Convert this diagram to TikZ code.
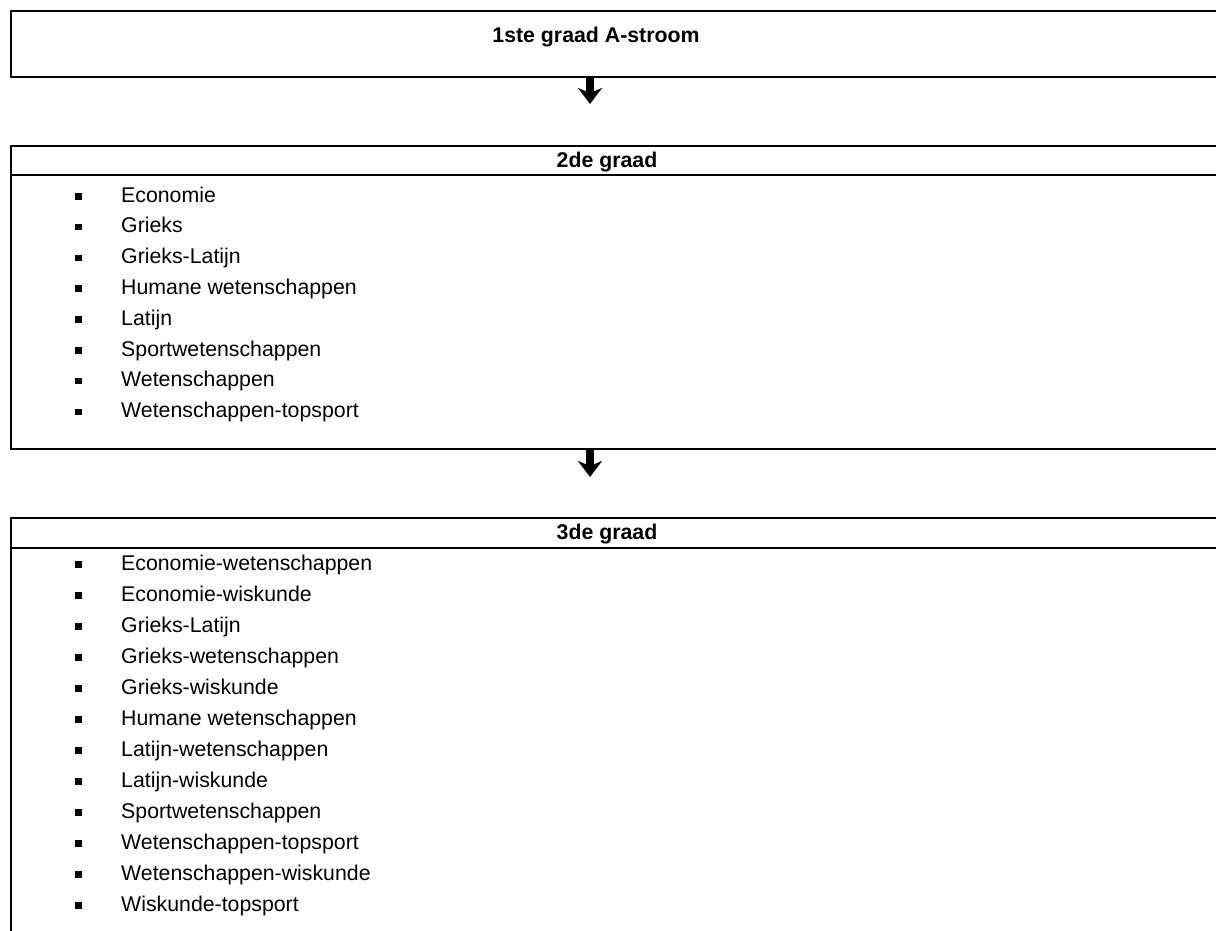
\documentclass[tikz,border=0pt]{standalone}
\usepackage{fontspec}
\setmainfont{Liberation Sans}
\usetikzlibrary{arrows.meta}

\tikzset{
  vak/.style={draw,line width=1.6pt,anchor=north west,minimum width=1300pt,inner sep=0pt},
  kop/.style={anchor=base,font=\fontsize{21.3}{25}\selectfont\bfseries},
  item/.style={anchor=base west,inner sep=0pt},
  pijl/.style={line width=8pt,-{Stealth[length=16pt,width=24pt,inset=5pt]}}
}
\newcommand{\blokje}{\rule[2.5pt]{6.5pt}{6.5pt}\hspace{39.5pt}}

\begin{document}
\begin{tikzpicture}[x=1pt,y=-1pt,font=\fontsize{21.3}{25}\selectfont]
    \useasboundingbox (0,0) rectangle (1216,930);
    \clip (0,0) rectangle (1216,930);

    % 1ste graad
    \node[vak,minimum height=66pt](astroom) at (10,10){};
    \node[kop](kop1) at (596,42){1ste graad A-stroom};

    % 2de graad
    \node[vak,minimum height=303pt](graad2) at (10,145){};
    \draw[line width=1.4pt](graad2.north west) ++(0,30) -- ++(1300,0);
    \node[kop](kop2) at (607,167){2de graad};
    \foreach \tekst [count=\i from 0] in {Economie,Grieks,Grieks-Latijn,Humane wetenschappen,Latijn,Sportwetenschappen,Wetenschappen,Wetenschappen-topsport}
        \node[item](a\i) at (75,202+30.8*\i){\blokje\tekst};

    % 3de graad
    \node[vak,minimum height=500pt](graad3) at (10,517){};
    \draw[line width=1.4pt](graad3.north west) ++(0,31) -- ++(1300,0);
    \node[kop](kop3) at (607,539){3de graad};
    \foreach \tekst [count=\i from 0] in {Economie-wetenschappen,Economie-wiskunde,Grieks-Latijn,Grieks-wetenschappen,Grieks-wiskunde,Humane wetenschappen,Latijn-wetenschappen,Latijn-wiskunde,Sportwetenschappen,Wetenschappen-topsport,Wetenschappen-wiskunde,Wiskunde-topsport}
        \node[item](b\i) at (75,570+31*\i){\blokje\tekst};

    % pijlen
    \coordinate(p1) at (590,104);
    \coordinate(p2) at (590,477);
    \draw[pijl](astroom.south -| p1) -- (p1);
    \draw[pijl](graad2.south -| p2) -- (p2);
\end{tikzpicture}
\end{document}
